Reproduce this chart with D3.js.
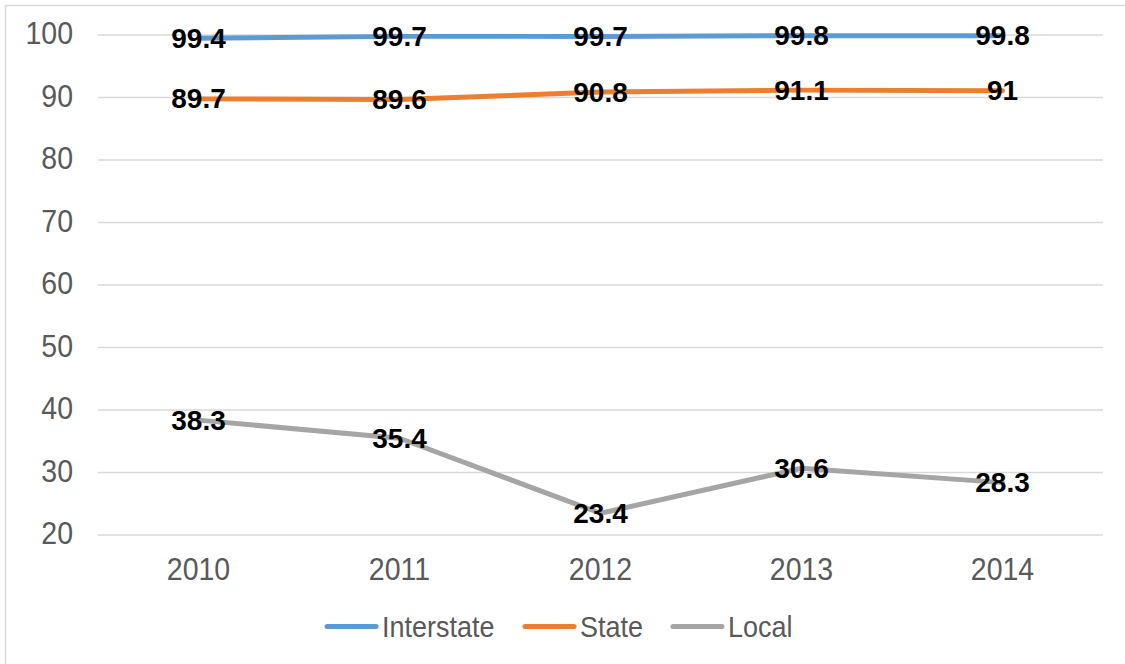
<!DOCTYPE html>
<html>
<head>
<meta charset="utf-8">
<script src="https://cdn.jsdelivr.net/npm/d3@7"></script>
<style>
  html, body { margin: 0; padding: 0; background: #fff; }
  svg { display: block; font-family: "Liberation Sans", Arial, sans-serif; }
</style>
</head>
<body>
<svg id="chart" width="1125" height="664"></svg>
<script>
const years = ["2010", "2011", "2012", "2013", "2014"];
const interstate = [99.4, 99.7, 99.7, 99.8, 99.8];
const stateVals = [89.7, 89.6, 90.8, 91.1, 91];
const local = [38.3, 35.4, 23.4, 30.6, 28.3];
const yTicks = [20, 30, 40, 50, 60, 70, 80, 90, 100];
const seriesNames = ["Interstate", "State", "Local"];
const seriesColors = ["#5B9BD5", "#ED7D31", "#A5A5A5"];

(function () {
const series = [
  { name: seriesNames[0], values: interstate, color: seriesColors[0] },
  { name: seriesNames[1], values: stateVals, color: seriesColors[1] },
  { name: seriesNames[2], values: local, color: seriesColors[2] }
];

const svg = d3.select("#chart");
const W = 1125, H = 664;
const SY = 1.07;

// outer chart border
svg.append("rect")
  .attr("x", 5.5).attr("y", 5.5)
  .attr("width", W + 10).attr("height", H + 10)
  .attr("fill", "#fff").attr("stroke", "#D9D9D9").attr("stroke-width", 1.5);

const pL = 98, pR = 1103, pT = 34.5, pB = 534.5;

const x = d3.scaleBand().domain(years).range([pL, pR]);
const y = d3.scaleLinear().domain([20, 100]).range([pB, pT]);

// gridlines + y labels
const yAxis = d3.axisLeft(y).tickValues(yTicks).tickSize(-(pR - pL)).tickPadding(25).tickFormat(d3.format("d"));
const gy = svg.append("g").attr("transform", `translate(${pL},0)`).call(yAxis);
gy.select(".domain").remove();
gy.selectAll(".tick line").attr("stroke", "#D9D9D9").attr("stroke-width", 1.5);
gy.selectAll(".tick text")
  .attr("fill", "#595959").attr("font-size", "28.5px")
  .attr("font-family", "'Liberation Sans', Arial, sans-serif")
  .attr("dy", "0.3em")
  .attr("transform", `scale(1,${SY})`);

// x axis labels
const xAxis = d3.axisBottom(x).tickSize(0).tickPadding(22);
const gx = svg.append("g").attr("transform", `translate(0,${pB})`).call(xAxis);
gx.select(".domain").remove();
gx.selectAll(".tick text")
  .attr("fill", "#595959").attr("font-size", "28.5px")
  .attr("font-family", "'Liberation Sans', Arial, sans-serif")
  .attr("transform", `scale(1,${SY})`);

const cx = d => x(d) + x.bandwidth() / 2;
const line = d3.line().x((d, i) => cx(years[i])).y(d => y(d));

svg.append("g").selectAll("path").data(series).join("path")
  .attr("d", s => line(s.values))
  .attr("fill", "none")
  .attr("stroke", s => s.color)
  .attr("stroke-width", 5)
  .attr("stroke-linejoin", "round")
  .attr("stroke-linecap", "round");

// data labels
const lg = svg.append("g");
series.forEach(s => {
  lg.selectAll(null).data(s.values).join("text")
    .attr("x", (d, i) => cx(years[i]))
    .attr("y", d => y(d))
    .attr("text-anchor", "middle")
    .attr("dominant-baseline", "central")
    .attr("font-weight", "bold")
    .attr("font-size", "28px")
    .attr("fill", "#000")
    .text(d => d);
});

// legend
const legendItems = [
  { x0: 325, tx: 382 },
  { x0: 523, tx: 580 },
  { x0: 671, tx: 728 }
];
const leg = svg.append("g");
series.forEach((s, i) => {
  const it = legendItems[i];
  leg.append("line")
    .attr("x1", it.x0 + 2).attr("x2", it.x0 + 51)
    .attr("y1", 626.5).attr("y2", 626.5)
    .attr("stroke", s.color).attr("stroke-width", 5)
    .attr("stroke-linecap", "round");
  leg.append("text")
    .attr("transform", `translate(${it.tx},626.5) scale(1,1.1)`)
    .attr("dominant-baseline", "central")
    .attr("font-size", "27px")
    .attr("fill", "#595959")
    .text(s.name);
});
})();
</script>
</body>
</html>
